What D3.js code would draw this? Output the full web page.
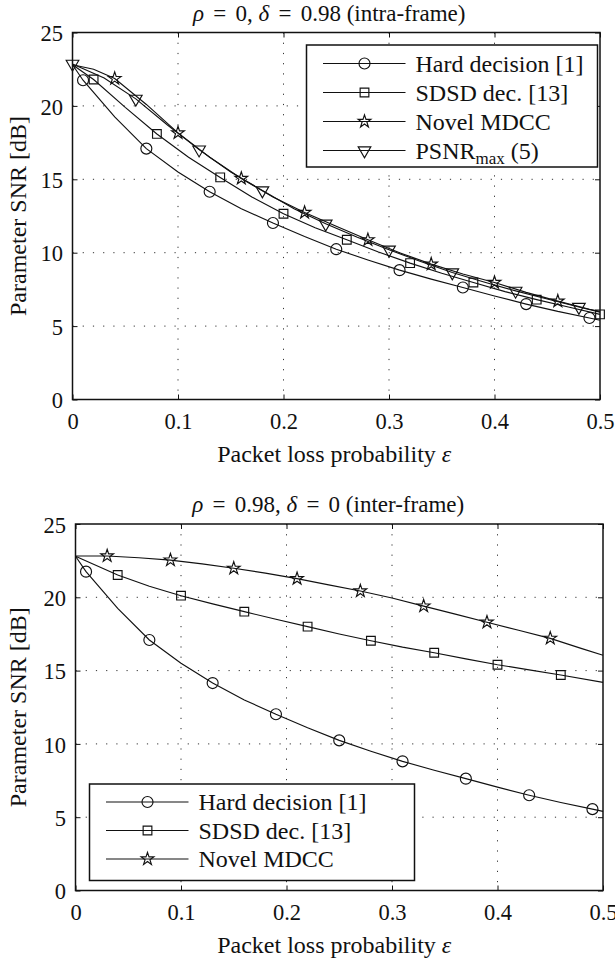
<!DOCTYPE html>
<html>
<head>
<meta charset="utf-8">
<script src="https://cdn.jsdelivr.net/npm/d3@7"></script>
<style>
	body { margin: 0; background: white; }
</style>
</head>
<body>
<div id="viz"></div>
<script>

// Axis ticks
var xTicks = [0, 0.1, 0.2, 0.3, 0.4, 0.5],
	xTickLabels = ["0", "0.1", "0.2", "0.3", "0.4", "0.5"],
	yTicks = [0, 5, 10, 15, 20, 25],
	yTickLabels = ["0", "5", "10", "15", "20", "25"];

// Series: [epsilon, SNR dB]
var hardDecision = [
	[0, 22.8], [0.01, 21.75], [0.04, 19.25], [0.07, 17.09], [0.10, 15.5], [0.13, 14.15],
	[0.16, 13.0], [0.19, 12.02], [0.22, 11.1], [0.25, 10.24], [0.28, 9.5], [0.31, 8.81],
	[0.34, 8.2], [0.37, 7.63], [0.40, 7.05], [0.43, 6.5], [0.46, 6.0], [0.49, 5.55], [0.50, 5.4]
];
var hardMarkers = [0.01, 0.07, 0.13, 0.19, 0.25, 0.31, 0.37, 0.43, 0.49];

var sdsdIntra = [
	[0, 22.8], [0.02, 21.8], [0.05, 19.9], [0.08, 18.09], [0.11, 16.5], [0.14, 15.13],
	[0.17, 13.8], [0.20, 12.65], [0.23, 11.7], [0.26, 10.88], [0.29, 10.05], [0.32, 9.29],
	[0.35, 8.6], [0.38, 7.97], [0.41, 7.35], [0.44, 6.8], [0.47, 6.3], [0.50, 5.8]
];
var sdsdIntraMarkers = [0.02, 0.08, 0.14, 0.20, 0.26, 0.32, 0.38, 0.44, 0.50];

var mdccIntra = [
	[0, 22.8], [0.02, 22.5], [0.04, 21.86], [0.07, 20.1], [0.10, 18.16], [0.13, 16.5],
	[0.16, 15.06], [0.19, 13.8], [0.22, 12.74], [0.25, 11.8], [0.28, 10.88], [0.31, 10.0],
	[0.34, 9.22], [0.37, 8.55], [0.40, 7.97], [0.43, 7.3], [0.46, 6.7], [0.49, 6.15], [0.50, 6.0]
];
var mdccIntraMarkers = [0.04, 0.10, 0.16, 0.22, 0.28, 0.34, 0.40, 0.46];

var psnrMax = [
	[0, 22.86], [0.03, 21.9], [0.06, 20.48], [0.09, 18.7], [0.12, 17.02], [0.15, 15.5],
	[0.18, 14.24], [0.21, 13.0], [0.24, 11.97], [0.27, 11.05], [0.30, 10.2], [0.33, 9.4],
	[0.36, 8.65], [0.39, 8.0], [0.42, 7.4], [0.45, 6.85], [0.48, 6.3], [0.50, 5.95]
];
var psnrMarkers = [0, 0.06, 0.12, 0.18, 0.24, 0.30, 0.36, 0.42, 0.48];

var sdsdInter = [
	[0, 22.8], [0.04, 21.52], [0.07, 20.75], [0.10, 20.11], [0.13, 19.55], [0.16, 19.02],
	[0.19, 18.5], [0.22, 18.0], [0.25, 17.5], [0.28, 17.04], [0.31, 16.6], [0.34, 16.22],
	[0.37, 15.8], [0.40, 15.4], [0.43, 15.05], [0.46, 14.7], [0.50, 14.2]
];
var sdsdInterMarkers = [0.04, 0.10, 0.16, 0.22, 0.28, 0.34, 0.40, 0.46];

var mdccInter = [
	[0, 22.82], [0.03, 22.82], [0.06, 22.7], [0.09, 22.54], [0.12, 22.28], [0.15, 21.98],
	[0.18, 21.65], [0.21, 21.27], [0.24, 20.85], [0.27, 20.43], [0.30, 19.95], [0.33, 19.4],
	[0.36, 18.85], [0.39, 18.3], [0.42, 17.75], [0.45, 17.2], [0.48, 16.5], [0.50, 16.05]
];
var mdccInterMarkers = [0.03, 0.09, 0.15, 0.21, 0.27, 0.33, 0.39, 0.45];

// Legend labels
var legendIntra = ["Hard decision [1]", "SDSD dec. [13]", "Novel MDCC", "PSNR"],
	legendInter = ["Hard decision [1]", "SDSD dec. [13]", "Novel MDCC"];

var width = 615, height = 963, fontSize = 24, titleFontSize = 23, tickFontSize = 22.5,
	serif = "'Liberation Serif', 'Times New Roman', Tinos, Times, 'DejaVu Serif', serif",
	eq = "\u2009\u2009=\u2009\u2009";

var svg = d3.select("#viz")
	.append("svg")
	.attr("width", width)
	.attr("height", height)
	.attr("font-family", serif)
	.style("background-color", "white");

// Marker drawing
var drawMarker = (g, type, x, y) => {
	if (type == "circle") {
		g.append("circle").attr("cx", x).attr("cy", y).attr("r", 5.5);
	} else if (type == "square") {
		g.append("path").attr("d", d3.symbol(d3.symbolSquare, 76)()).attr("transform", `translate(${x},${y})`);
	} else if (type == "star") {
		g.append("path").attr("d", d3.symbol(d3.symbolStar, 50)()).attr("transform", `translate(${x},${y})`);
	} else if (type == "triangle") {
		var p = d3.path(), r = 7.3;
		p.moveTo(-r * 0.866, -r * 0.5);
		p.lineTo(r * 0.866, -r * 0.5);
		p.lineTo(0, r);
		p.closePath();
		g.append("path").attr("d", p.toString()).attr("transform", `translate(${x},${y})`);
	}
};

var drawPanel = (cfg) => {
	var x = d3.scaleLinear([0, 0.5], [cfg.left, cfg.right]),
		y = d3.scaleLinear([0, 25], [cfg.bottom, cfg.top]);

	var g = svg.append("g");

	// Grid
	g.selectAll(".gx")
		.data(xTicks.slice(1, -1))
		.enter()
		.append("line")
		.attr("x1", d => x(d)).attr("x2", d => x(d))
		.attr("y1", cfg.top).attr("y2", cfg.bottom)
		.style("stroke", "#333").style("stroke-width", 1)
		.style("stroke-dasharray", "1.2, 9");
	g.selectAll(".gy")
		.data(yTicks.slice(1, -1))
		.enter()
		.append("line")
		.attr("x1", cfg.left).attr("x2", cfg.right)
		.attr("y1", d => y(d)).attr("y2", d => y(d))
		.style("stroke", "#333").style("stroke-width", 1)
		.style("stroke-dasharray", "1.2, 9");

	// Axes with inward ticks on all sides
	var bottomAxis = g.append("g").attr("transform", `translate(0,${cfg.bottom})`)
		.call(d3.axisBottom(x).tickValues(xTicks).tickFormat((d, i) => xTickLabels[i]).tickSizeInner(-5).tickSizeOuter(0));
	bottomAxis.selectAll("text").attr("y", 29.5).attr("dy", 0);
	g.append("g").attr("transform", `translate(0,${cfg.top})`)
		.call(d3.axisTop(x).tickValues(xTicks).tickFormat("").tickSizeInner(-5).tickSizeOuter(0));
	var leftAxis = g.append("g").attr("transform", `translate(${cfg.left},0)`)
		.call(d3.axisLeft(y).tickValues(yTicks).tickFormat((d, i) => yTickLabels[i]).tickSizeInner(-5).tickSizeOuter(0));
	leftAxis.selectAll("text").attr("x", -9.5).attr("dy", "0.36em");
	g.append("g").attr("transform", `translate(${cfg.right},0)`)
		.call(d3.axisRight(y).tickValues(yTicks).tickFormat("").tickSizeInner(-5).tickSizeOuter(0));
	g.selectAll(".domain").remove();
	g.selectAll(".tick line").style("stroke", "#111");
	g.selectAll("g").attr("font-family", serif).attr("font-size", tickFontSize);
	g.selectAll(".tick text").style("fill", "#111");

	// Series lines and markers
	var line = d3.line().x(d => x(d[0])).y(d => y(d[1]));
	cfg.series.forEach(s => {
		g.append("path")
			.attr("d", line(s.data))
			.style("fill", "none")
			.style("stroke", "#111")
			.style("stroke-width", 1.15);
		var mg = g.append("g").style("fill", "none").style("stroke", "#111").style("stroke-width", 1.15);
		s.markers.forEach(mx => {
			var pt = s.data.find(d => Math.abs(d[0] - mx) < 1e-9);
			drawMarker(mg, s.marker, x(pt[0]), y(pt[1]));
		});
	});

	// Frame
	g.append("rect")
		.attr("x", cfg.left).attr("y", cfg.top)
		.attr("width", cfg.right - cfg.left).attr("height", cfg.bottom - cfg.top)
		.style("fill", "none").style("stroke", "#111").style("stroke-width", 1.5);

	// Title
	var title = g.append("text")
		.attr("x", (cfg.left + cfg.right) / 2 + cfg.titleShift)
		.attr("y", cfg.top - 12)
		.attr("text-anchor", "middle")
		.attr("font-size", titleFontSize)
		.style("fill", "#111");
	cfg.title.forEach(t => title.append("tspan").style("font-style", t.italic ? "italic" : "normal").text(t.text));

	// Axis labels
	var xl = g.append("text")
		.attr("x", (cfg.left + cfg.right) / 2 + cfg.labelShift)
		.attr("y", cfg.bottom + 62)
		.attr("text-anchor", "middle")
		.attr("font-size", fontSize)
		.style("fill", "#111");
	xl.append("tspan").text("Packet loss probability ");
	xl.append("tspan").style("font-style", "italic").text("ε");
	g.append("text")
		.attr("transform", `translate(26,${(cfg.top + cfg.bottom) / 2}) rotate(-90)`)
		.attr("text-anchor", "middle")
		.attr("font-size", fontSize)
		.style("fill", "#111")
		.text("Parameter SNR [dB]");

	// Legend
	var lg = cfg.legend;
	g.append("rect")
		.attr("x", lg.x).attr("y", lg.y)
		.attr("width", lg.w).attr("height", lg.h)
		.style("fill", "white").style("stroke", "#111").style("stroke-width", 1.5);
	cfg.series.forEach((s, i) => {
		var ry = lg.y + lg.first + i * lg.step;
		g.append("line")
			.attr("x1", lg.x + 16.5).attr("x2", lg.x + 99)
			.attr("y1", ry).attr("y2", ry)
			.style("stroke", "#111").style("stroke-width", 1.15);
		var mg = g.append("g").style("fill", "none").style("stroke", "#111").style("stroke-width", 1.15);
		drawMarker(mg, s.marker, lg.x + 58, ry);
		var t = g.append("text")
			.attr("x", lg.x + 109)
			.attr("y", ry + 8)
			.attr("font-size", fontSize)
			.style("fill", "#111");
		t.append("tspan").text(lg.labels[i]);
		if (lg.labels[i] == "PSNR") {
			t.append("tspan").attr("dy", 5).attr("font-size", 17).text("max");
			t.append("tspan").attr("dy", -5).text(" (5)");
		}
	});
};

drawPanel({
	left: 72.5, right: 600, top: 32.5, bottom: 399.5, titleShift: -7, labelShift: -2,
	title: [{text: "ρ", italic: true}, {text: eq + "0, "}, {text: "δ", italic: true}, {text: eq + "0.98 (intra-frame)"}],
	series: [
		{data: hardDecision, markers: hardMarkers, marker: "circle"},
		{data: sdsdIntra, markers: sdsdIntraMarkers, marker: "square"},
		{data: mdccIntra, markers: mdccIntraMarkers, marker: "star"},
		{data: psnrMax, markers: psnrMarkers, marker: "triangle"}
	],
	legend: {x: 306.5, y: 45, w: 291, h: 122, first: 18.5, step: 29, labels: legendIntra}
});

drawPanel({
	left: 75.5, right: 603, top: 524, bottom: 890.5, titleShift: -11, labelShift: -5,
	title: [{text: "ρ", italic: true}, {text: eq + "0.98, "}, {text: "δ", italic: true}, {text: eq + "0 (inter-frame)"}],
	series: [
		{data: hardDecision, markers: hardMarkers, marker: "circle"},
		{data: sdsdInter, markers: sdsdInterMarkers, marker: "square"},
		{data: mdccInter, markers: mdccInterMarkers, marker: "star"}
	],
	legend: {x: 89.5, y: 784, w: 325, h: 96.5, first: 18, step: 28.5, labels: legendInter}
});

</script>
</body>
</html>
